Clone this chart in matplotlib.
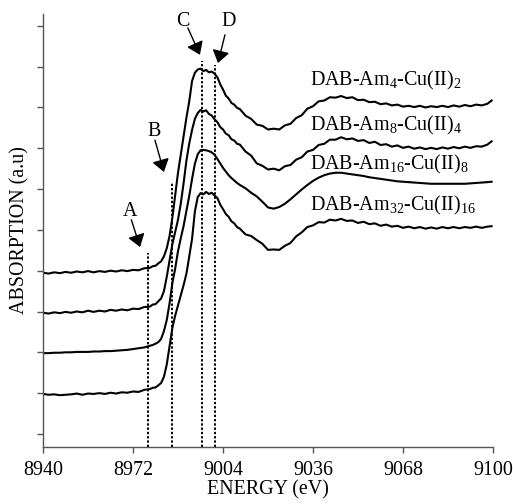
import matplotlib
matplotlib.use("Agg")
import matplotlib.pyplot as plt

plt.rcParams['font.family'] = ['Liberation Serif', 'DejaVu Serif']
plt.rcParams['mathtext.fontset'] = 'custom'
plt.rcParams['mathtext.rm'] = 'Liberation Serif'
plt.rcParams['mathtext.it'] = 'Liberation Serif:italic'

# ---- data (energy in eV; absorption in arbitrary, vertically offset units) ----
energy = [8940, 8942, 8944, 8946, 8948, 8950, 8952, 8954, 8956, 8958,
          8960, 8962, 8964, 8966, 8968, 8970, 8972, 8974, 8976, 8978,
          8979, 8980, 8981, 8982, 8983, 8984, 8985, 8986, 8987, 8988,
          8989, 8990, 8991, 8992, 8993, 8994, 8995, 8996, 8997, 8998,
          8999, 9000, 9001, 9002, 9003, 9004, 9005, 9006, 9007, 9008,
          9009, 9010, 9012, 9014, 9016, 9018, 9020, 9022, 9024, 9026,
          9028, 9030, 9032, 9034, 9036, 9038, 9040, 9042, 9044, 9046,
          9048, 9050, 9052, 9054, 9056, 9058, 9060, 9062, 9064, 9066,
          9068, 9070, 9072, 9074, 9076, 9078, 9080, 9082, 9084, 9086,
          9088, 9090, 9092, 9094, 9096, 9098, 9099.5]

am4 = [3.95, 3.93, 3.96, 3.94, 3.97, 3.95, 3.98, 3.96, 3.99, 3.96,
       3.99, 3.97, 4.00, 3.98, 4.01, 3.99, 4.02, 4.01, 4.06, 4.07,
       4.11, 4.12, 4.18, 4.23, 4.35, 4.55, 4.85, 5.30, 5.85, 6.40,
       6.85, 7.30, 7.75, 8.15, 8.65, 8.85, 8.93, 8.95, 8.89, 8.92,
       8.86, 8.88, 8.83, 8.74, 8.57, 8.44, 8.29, 8.22, 8.11, 8.07,
       7.99, 7.96, 7.80, 7.72, 7.58, 7.55, 7.46, 7.48, 7.46, 7.56,
       7.60, 7.74, 7.81, 7.97, 8.03, 8.15, 8.17, 8.25, 8.24, 8.28,
       8.23, 8.25, 8.18, 8.19, 8.13, 8.14, 8.08, 8.10, 8.05, 8.07,
       8.02, 8.04, 8.01, 8.04, 8.00, 8.03, 8.01, 8.04, 8.01, 8.05,
       8.02, 8.06, 8.03, 8.07, 8.05, 8.09, 8.17]

am8 = [2.97, 2.95, 2.98, 2.96, 2.99, 2.97, 3.00, 2.98, 3.02, 2.99,
       3.02, 3.00, 3.04, 3.02, 3.05, 3.03, 3.07, 3.06, 3.11, 3.12,
       3.17, 3.18, 3.25, 3.32, 3.50, 3.85, 4.25, 4.65, 4.95, 5.25,
       5.65, 6.15, 6.70, 7.12, 7.45, 7.72, 7.86, 7.94, 7.90, 7.93,
       7.84, 7.80, 7.71, 7.64, 7.52, 7.46, 7.36, 7.32, 7.22, 7.19,
       7.11, 7.09, 6.92, 6.82, 6.63, 6.57, 6.48, 6.50, 6.46, 6.56,
       6.59, 6.72, 6.78, 6.92, 6.96, 7.08, 7.11, 7.21, 7.21, 7.27,
       7.22, 7.24, 7.18, 7.20, 7.13, 7.16, 7.08, 7.10, 7.04, 7.07,
       7.01, 7.04, 6.99, 7.02, 6.98, 7.01, 6.98, 7.02, 6.99, 7.03,
       7.00, 7.04, 7.01, 7.05, 7.04, 7.09, 7.17]

am16 = [1.98, 1.98, 1.99, 1.99, 2.00, 2.00, 2.01, 2.01, 2.01, 2.02,
        2.02, 2.03, 2.03, 2.04, 2.05, 2.06, 2.08, 2.10, 2.12, 2.16,
        2.18, 2.21, 2.25, 2.33, 2.52, 2.79, 3.20, 3.70, 4.05, 4.48,
        4.80, 5.10, 5.47, 5.83, 6.25, 6.62, 6.85, 6.95, 6.96, 6.95,
        6.93, 6.90, 6.84, 6.74, 6.63, 6.52, 6.43, 6.34, 6.27, 6.21,
        6.15, 6.10, 6.02, 5.91, 5.82, 5.69, 5.55, 5.52, 5.56, 5.64,
        5.75, 5.87, 5.99, 6.10, 6.20, 6.28, 6.34, 6.38, 6.40, 6.40,
        6.38, 6.36, 6.34, 6.32, 6.29, 6.27, 6.25, 6.23, 6.21, 6.19,
        6.18, 6.17, 6.16, 6.15, 6.14, 6.13, 6.13, 6.13, 6.13, 6.13,
        6.13, 6.13, 6.14, 6.15, 6.16, 6.17, 6.18]

am32 = [0.98, 0.96, 0.97, 0.95, 0.96, 0.97, 0.99, 0.96, 0.99, 0.98,
        1.00, 0.98, 1.01, 0.99, 1.02, 1.01, 1.04, 1.03, 1.08, 1.10,
        1.13, 1.14, 1.19, 1.25, 1.40, 1.70, 2.15, 2.60, 2.90, 3.15,
        3.40, 3.65, 3.93, 4.35, 4.78, 5.45, 5.80, 5.90, 5.87, 5.93,
        5.88, 5.91, 5.84, 5.78, 5.62, 5.51, 5.39, 5.32, 5.21, 5.16,
        5.07, 5.03, 4.89, 4.85, 4.75, 4.66, 4.51, 4.52, 4.51, 4.61,
        4.68, 4.84, 4.94, 5.07, 5.11, 5.19, 5.18, 5.25, 5.23, 5.27,
        5.22, 5.23, 5.17, 5.20, 5.14, 5.16, 5.10, 5.13, 5.08, 5.10,
        5.05, 5.08, 5.04, 5.07, 5.03, 5.06, 5.03, 5.07, 5.04, 5.07,
        5.04, 5.07, 5.05, 5.08, 5.05, 5.08, 5.09]

series = [am4, am8, am16, am32]
labels = ["DAB-Am$_{4}$-Cu(II)$_{2}$", "DAB-Am$_{8}$-Cu(II)$_{4}$",
          "DAB-Am$_{16}$-Cu(II)$_{8}$", "DAB-Am$_{32}$-Cu(II)$_{16}$"]
label_y = [8.53, 7.43, 6.49, 5.47]
label_x = 9035

# feature markers A-D (energy, top of dotted line)
mark_names = ["A", "B", "C", "D"]
mark_e = [8977.4, 8985.8, 8996.4, 9001.2]
mark_top = [4.44, 6.18, 9.14, 9.04]
mark_text = [(8970.9, 5.44), (8979.5, 7.40), (8989.8, 10.10), (9006.1, 10.10)]
arrow_from = [(8971.4, 5.25), (8979.8, 7.20), (8991.5, 9.95), (9004.7, 9.78)]
arrow_to = [(8974.5, 4.58), (8983.0, 6.42), (8995.8, 9.29), (9002.2, 9.09)]

xticks = [8940, 8972, 9004, 9036, 9068, 9100]
yticks = list(range(0, 11))

fig = plt.figure(figsize=(5.13, 5.04), dpi=100)
ax = fig.add_axes([43 / 513, 1 - 447 / 504, 450 / 513, 433 / 504])

for s in series:
    ax.plot(energy, s, color='black', lw=1.5, solid_joinstyle='round')

ymin, ymax = -0.32, 10.29
for e, top in zip(mark_e, mark_top):
    ax.plot([e, e], [ymin, top], color='black', lw=1.4, linestyle=(0, (1.2, 1.0)))

for name, t, f, to in zip(mark_names, mark_text, arrow_from, arrow_to):
    ax.text(t[0], t[1], name, fontsize=14.4, ha='center', va='center')
    ax.annotate('', xy=to, xytext=f,
                arrowprops=dict(arrowstyle='-|>,head_length=0.5,head_width=0.35',
                                color='black', lw=1.0, mutation_scale=15,
                                shrinkA=0, shrinkB=0))

for lab, y in zip(labels, label_y):
    ax.text(label_x, y, lab, fontsize=14.4, ha='left', va='baseline')

ax.set_xlim(8940, 9100)
ax.set_ylim(ymin, ymax)
ax.set_xticks(xticks)
ax.set_yticks(yticks)
ax.set_yticklabels([])
ax.spines['top'].set_visible(False)
ax.spines['right'].set_visible(False)
for sp in ['left', 'bottom']:
    ax.spines[sp].set_color('#555555')
    ax.spines[sp].set_linewidth(1.0)
ax.tick_params(axis='x', direction='out', length=4.3, width=1, color='#555555',
               labelsize=14.4, pad=6)
ax.tick_params(axis='y', direction='out', length=4.3, width=1, color='#555555')
ax.set_xlabel("ENERGY (eV)", fontsize=14.4, labelpad=0.3)
ax.set_ylabel("ABSORPTION (a.u)", fontsize=14.4, labelpad=2)

fig.savefig("out.png", dpi=100)
